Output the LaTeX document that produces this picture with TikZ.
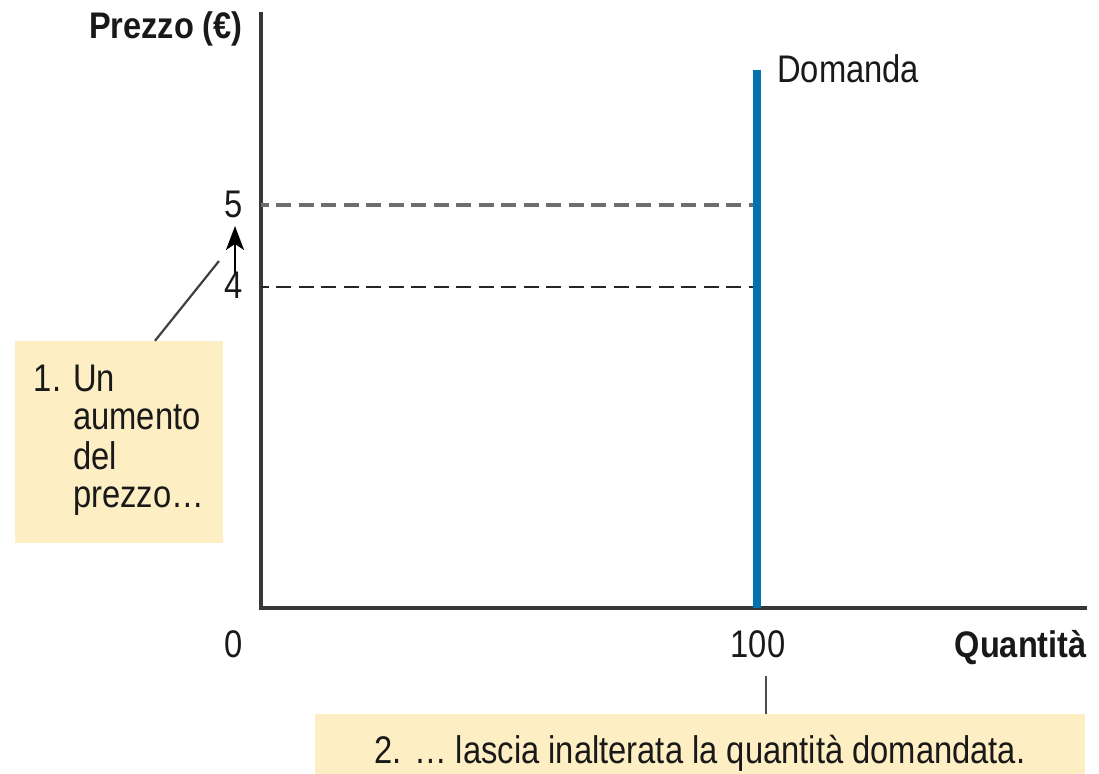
\documentclass[tikz,border=0pt]{standalone}
\usepackage{fontspec}
\setmainfont{Liberation Sans}[FakeStretch=0.85, BoldFeatures={FakeStretch=0.88}]
\usetikzlibrary{arrows.meta}
\definecolor{boxfill}{RGB}{253,238,196}
\definecolor{dem}{RGB}{0,114,174}
\definecolor{txt}{RGB}{25,25,25}
\definecolor{axis}{RGB}{55,55,55}
\begin{document}
\begin{tikzpicture}[x=1pt,y=-1pt,
  lbl/.style={text=txt, font=\fontsize{38.5}{38.5}\selectfont, inner sep=0pt},
  blbl/.style={lbl, font=\fontsize{37}{38}\selectfont\bfseries},
  note/.style={lbl, fill=boxfill, draw=none},
  axisline/.style={draw=axis, line width=3.3pt},
  guide/.style={draw=black!57, line width=3.6pt, dash pattern=on 15pt off 7.5pt, dash phase=7.5pt},
  guidethin/.style={draw=black!85, line width=2.2pt, dash pattern=on 15pt off 7.5pt, dash phase=7.5pt},
  leader/.style={draw=black!75, line width=2.2pt},
  curve/.style={draw=dem, line width=8pt}]
\useasboundingbox (0,0) rectangle (1099,773);
% axes
\coordinate (O) at (261,608);
\coordinate (ytop) at (261,12);
\coordinate (xend) at (1087,608);
\draw[axisline] (ytop) -- (O) -- (xend);
% demand
\coordinate (dtop) at (757,70);
\coordinate (dbot) at (757,608);
\draw[curve] (dtop) -- (dbot);
\node[lbl, anchor=base west] (dlab) at (777,83) {Domanda};
% dashed guides
\coordinate (p5) at (261,205);
\coordinate (d5) at (753,205);
\coordinate (p4) at (261,287);
\coordinate (d4) at (753,287);
\draw[guide] (p5) -- (d5);
\draw[guidethin] (p4) -- (d4);
% labels
\node[blbl, anchor=base east] (ylab) at (243,39) {Prezzo (€)};
\node[lbl, anchor=base east] (l5) at (243,217) {5};
\node[lbl, anchor=base east] (l4) at (243,298) {4};
\node[lbl, anchor=base] (l0) at (234,657) {0};
\node[lbl, anchor=base] (l100) at (758,657) {100};
\node[blbl, anchor=base east] (xlab) at (1087,657) {Quantità};
% arrow 4 -> 5
\coordinate (ar1) at (235,273);
\coordinate (ar2) at (235,226);
\draw[line width=2.2pt, -{Stealth[length=24pt,width=18pt,inset=6pt]}] (ar1) -- (ar2);
% note 1
\node[note, minimum width=208pt, minimum height=202pt] (n1) at (119,442)
  {\begin{tabular}{@{}l@{\hspace{12pt}}l@{}}1. & Un\\ & aumento\\ & del\\ & prezzo…\end{tabular}};
\coordinate (lead1) at (219,261);
\draw[leader] (n1.north -| 155,0) -- (lead1);
% note 2
\node[note, anchor=north, minimum width=770pt, minimum height=78pt] (n2) at (700,714)
  {2. … lascia inalterata la quantità domandata.};
\coordinate (tick) at (766,676);
\draw[draw=black!70, line width=2pt] (tick) -- (n2.north -| tick);
\end{tikzpicture}
\end{document}
